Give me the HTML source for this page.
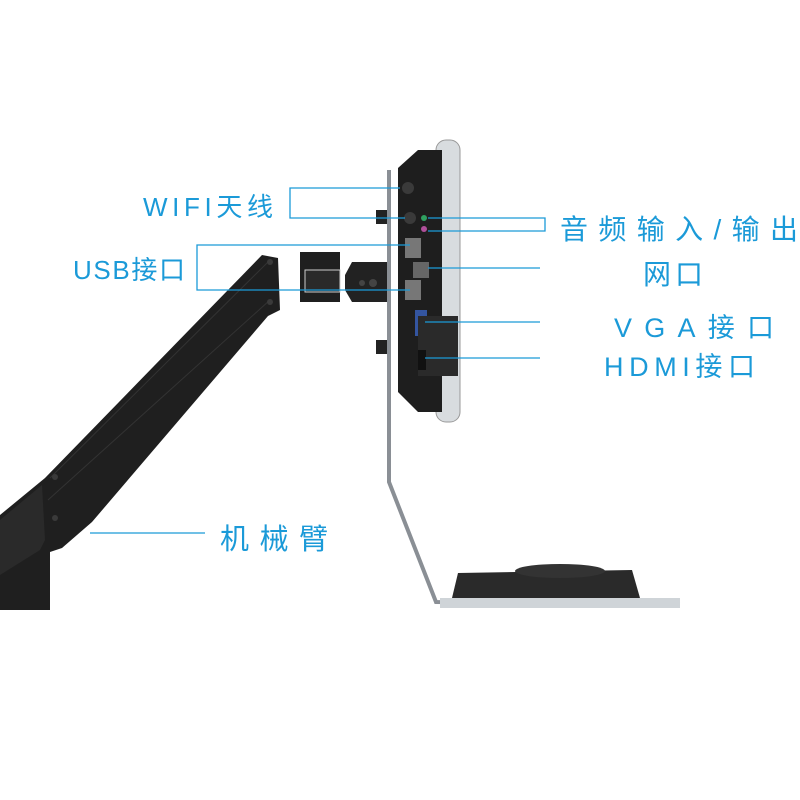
<!DOCTYPE html>
<html><head><meta charset="utf-8"><style>
html,body{margin:0;padding:0;background:#fff;}
svg{display:block}
text{font-family:"Liberation Sans","Noto Sans CJK SC",sans-serif;fill:#1b9ad8;}
</style></head><body>
<svg width="800" height="800" viewBox="0 0 800 800" xmlns="http://www.w3.org/2000/svg">
<!-- arm -->
<polygon points="0,515 45,478 262,255 278,258 280,310 268,316 92,522 62,548 50,552 50,610 0,610" fill="#1f1f1f"/>
<polygon points="0,520 42,485 45,540 40,550 0,575" fill="#2a2a2a"/>
<line x1="50" y1="478" x2="268" y2="262" stroke="#333" stroke-width="1"/>
<line x1="48" y1="500" x2="270" y2="300" stroke="#333" stroke-width="1"/>
<circle cx="270" cy="262" r="3" fill="#3a3a3a"/><circle cx="270" cy="302" r="3" fill="#3a3a3a"/>
<circle cx="55" cy="477" r="3" fill="#3a3a3a"/><circle cx="55" cy="518" r="3" fill="#3a3a3a"/>
<!-- bracket -->
<rect x="300" y="252" width="40" height="50" fill="#1f1f1f"/>
<rect x="305" y="270" width="35" height="22" fill="#2a2a2a" stroke="#ccc" stroke-width="1"/>
<polygon points="352,262 388,262 388,302 352,302 345,290 345,275" fill="#222"/>
<circle cx="362" cy="283" r="3" fill="#444"/><circle cx="373" cy="283" r="4" fill="#444"/>
<rect x="376" y="210" width="14" height="14" fill="#222"/>
<rect x="376" y="340" width="14" height="14" fill="#222"/>
<!-- stand -->
<polyline points="389,170 389,482 436,602 680,604" fill="none" stroke="#8a8f95" stroke-width="4"/>
<!-- keyboard tray -->
<rect x="440" y="598" width="240" height="10" fill="#cfd4d8"/>
<polygon points="452,598 458,573 632,570 640,598" fill="#2a2a2a"/>
<ellipse cx="560" cy="571" rx="45" ry="7" fill="#333"/>
<!-- monitor -->
<rect x="436" y="140" width="24" height="282" rx="10" fill="#d8dcdf" stroke="#999"/>
<polygon points="398,168 418,150 442,150 442,412 418,412 398,392" fill="#1e1e1e"/>
<circle cx="408" cy="188" r="6" fill="#3a3a3a"/><circle cx="410" cy="218" r="6" fill="#3a3a3a"/>
<circle cx="424" cy="218" r="3" fill="#2fa060"/><circle cx="424" cy="229" r="3" fill="#b0509a"/>
<rect x="405" y="238" width="16" height="20" fill="#777"/>
<rect x="413" y="262" width="16" height="16" fill="#666"/>
<rect x="405" y="280" width="16" height="20" fill="#777"/>
<rect x="415" y="310" width="12" height="26" fill="#3455a0"/>
<rect x="418" y="316" width="40" height="60" fill="#2a2a2a"/>
<rect x="418" y="350" width="8" height="20" fill="#111"/>
<!-- leader lines -->
<g stroke="#1b9ad8" stroke-width="1.3" fill="none">
<polyline points="400,188 290,188 290,218 405,218"/>
<polyline points="410,245 197,245 197,290 410,290"/>
<polyline points="428,218 545,218 545,231 428,231"/>
<line x1="428" y1="268" x2="540" y2="268"/>
<line x1="425" y1="322" x2="540" y2="322"/>
<line x1="425" y1="358" x2="540" y2="358"/>
<line x1="90" y1="533" x2="205" y2="533"/>
</g>
<!-- labels -->
<text x="143" y="216" font-size="26" textLength="130" lengthAdjust="spacing">WIFI天线</text>
<text x="73" y="279" font-size="26" textLength="112" lengthAdjust="spacing">USB接口</text>
<text x="560" y="239" font-size="28" textLength="238" lengthAdjust="spacing">音频输入/输出</text>
<text x="643" y="284" font-size="28" textLength="60" lengthAdjust="spacing">网口</text>
<text x="614" y="337" font-size="27" textLength="160" lengthAdjust="spacing">VGA接口</text>
<text x="604" y="376" font-size="27" textLength="151" lengthAdjust="spacing">HDMI接口</text>
<text x="220" y="549" font-size="29" textLength="108" lengthAdjust="spacing">机械臂</text>
</svg>
</body></html>
